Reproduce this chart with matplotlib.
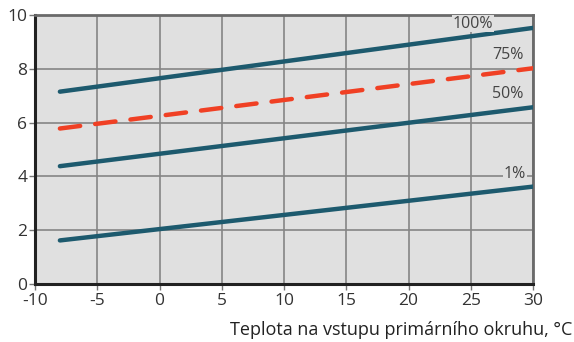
import matplotlib
matplotlib.use('Agg')
from matplotlib import pyplot as plt

# line end points (x = -8 .. 30)
temps = [-8, 30]
load_100 = [7.15, 9.52]
load_75 = [5.78, 8.02]
load_50 = [4.38, 6.57]
load_1 = [1.62, 3.62]

x_ticks = [-10, -5, 0, 5, 10, 15, 20, 25, 30]
y_ticks = [0, 2, 4, 6, 8, 10]

plt.rcParams['font.family'] = ['Open Sans', 'DejaVu Sans']

fig = plt.figure(figsize=(5.74, 3.42), dpi=100)
ax = fig.add_axes([35 / 574, 58 / 342, 498 / 574, 269 / 342])
bg = '#e0e0e0'
ax.set_facecolor(bg)

blue = '#1d5a6e'
red = '#f04024'
ax.plot(temps, load_100, color=blue, linewidth=3.2, solid_capstyle='round', zorder=3)
ax.plot(temps, load_75, color=red, linewidth=3.2, linestyle=(0, (4.6, 3.4)),
        dash_capstyle='round', zorder=3)
ax.plot(temps, load_50, color=blue, linewidth=3.2, solid_capstyle='round', zorder=3)
ax.plot(temps, load_1, color=blue, linewidth=3.2, solid_capstyle='round', zorder=3)

lbl = dict(fontsize=11.5, color='#444444', ha='center', va='center', zorder=4,
           bbox=dict(facecolor=bg, edgecolor='none', pad=0.6))
ax.text(25.2, 9.68, '100%', **lbl)
ax.text(28.0, 8.52, '75%', **lbl)
ax.text(28.0, 7.06, '50%', **lbl)
ax.text(28.55, 4.08, '1%', **lbl)

ax.set_xlim(-10, 30)
ax.set_ylim(0, 10)
ax.set_xticks(x_ticks)
ax.set_yticks(y_ticks)
ax.set_xticklabels([str(t) for t in x_ticks])
ax.grid(True, color='#858585', linewidth=1.2, zorder=1)
ax.set_axisbelow(True)

for side in ['left', 'bottom']:
    ax.spines[side].set_color('#222222')
    ax.spines[side].set_linewidth(2.2)
for side in ['top', 'right']:
    ax.spines[side].set_color('#6a6a6a')
    ax.spines[side].set_linewidth(2.0)

ax.tick_params(axis='both', length=4, width=1, color='#777777', labelsize=12.5,
               labelcolor='#333333', pad=0)
ax.tick_params(axis='y', pad=1.5)
ax.tick_params(axis='x', pad=2.5)

fig.text(0.998, 0.01, 'Teplota na vstupu primárního okruhu, °C', ha='right', va='bottom',
         fontsize=13, color='#222222')

fig.savefig('out.png', dpi=100)
